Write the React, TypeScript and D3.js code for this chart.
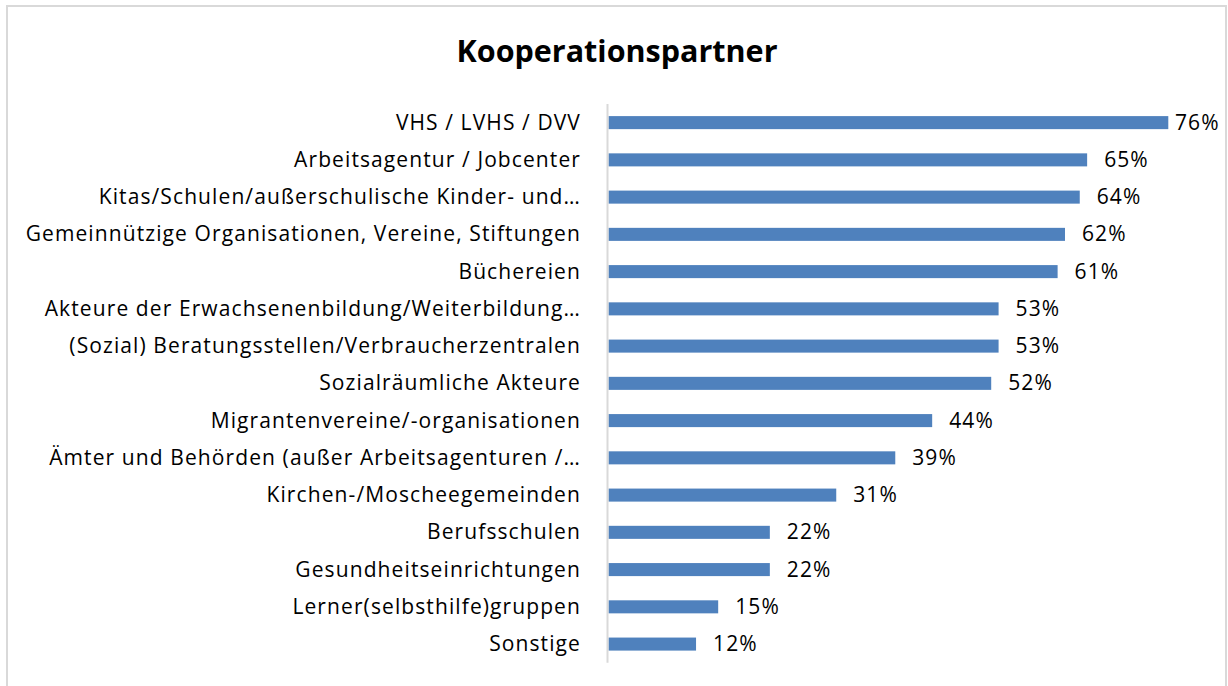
import React from 'react';
import * as d3 from 'd3';

const title = 'Kooperationspartner';

const categories = [
  'VHS / LVHS / DVV',
  'Arbeitsagentur / Jobcenter',
  'Kitas/Schulen/außerschulische Kinder- und…',
  'Gemeinnützige Organisationen, Vereine, Stiftungen',
  'Büchereien',
  'Akteure der Erwachsenenbildung/Weiterbildung…',
  '(Sozial) Beratungsstellen/Verbraucherzentralen',
  'Sozialräumliche Akteure',
  'Migrantenvereine/-organisationen',
  'Ämter und Behörden (außer Arbeitsagenturen /…',
  'Kirchen-/Moscheegemeinden',
  'Berufsschulen',
  'Gesundheitseinrichtungen',
  'Lerner(selbsthilfe)gruppen',
  'Sonstige',
];

const values = [76, 65, 64, 62, 61, 53, 53, 52, 44, 39, 31, 22, 22, 15, 12];

const width = 1228;
const height = 686;
const font = 'Open Sans, Noto Sans, sans-serif';

export default function App() {
  const x = d3.scaleLinear().domain([0, 76]).range([607.5, 1168.3]);
  const y = d3.scaleBand().domain(categories).range([104, 662.7]).paddingInner(0.65).paddingOuter(0.325);

  const labelW = 43;
  const rightLimit = 1218;

  return (
    <svg width={width} height={height} style={{ position: 'absolute', left: 0, top: 0, background: '#fff' }}>
      <rect x={7} y={6} width={1219} height={700} fill="#fff" stroke="#d9d9d9" strokeWidth={2} />
      <text x={617} y={62} textAnchor="middle" fontFamily={font} fontWeight="bold" fontSize={30.5} fill="#000">
        {title}
      </text>
      {categories.map((c, i) => {
        const by = y(c)!;
        const cy = by + y.bandwidth() / 2;
        const xe = x(values[i]);
        const lx = Math.min(xe + 17, rightLimit - labelW);
        return (
          <g key={c}>
            <rect x={x(0) + 1} y={by} width={xe - x(0) - 1} height={y.bandwidth()} fill="#4f81bd" />
            <text x={581} y={cy + 7} textAnchor="end" fontFamily={font} fontSize={21} letterSpacing={1.1} fill="#000">
              {c}
            </text>
            <text x={lx} y={cy + 7} fontFamily={font} fontSize={21} letterSpacing={1.1} fill="#000">
              {values[i]}%
            </text>
          </g>
        );
      })}
      <line x1={x(0)} x2={x(0)} y1={104} y2={662.7} stroke="#d9d9d9" strokeWidth={2} />
    </svg>
  );
}
